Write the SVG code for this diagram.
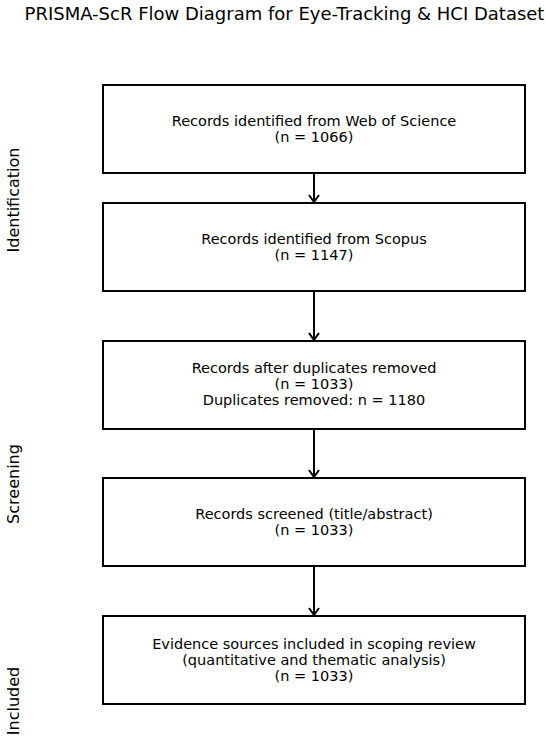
<svg xmlns="http://www.w3.org/2000/svg" width="550" height="740" viewBox="0 0 550 740">
<style>
text{font-family:"DejaVu Sans",sans-serif;fill:#000}
.t{font-size:14.5px;text-anchor:middle}
.box{fill:#fff;stroke:#000;stroke-width:2}
.side{font-size:16px;text-anchor:middle}
.c{stroke:#000;stroke-width:2;fill:none}
</style>
<defs>
<marker id="a" markerUnits="userSpaceOnUse" markerWidth="14" markerHeight="14" refX="7" refY="13" orient="0" viewBox="0 0 14 14">
<path d="M2,6 L7,13 L12,6" fill="none" stroke="#000" stroke-width="2"/>
</marker>
</defs>
<rect width="550" height="740" fill="#fff"/>
<text x="284.5" y="20" style="font-size:18px;text-anchor:middle">PRISMA-ScR Flow Diagram for Eye-Tracking &amp; HCI Dataset</text>
<text class="side" transform="translate(19,200) rotate(-90)">Identification</text>
<text class="side" transform="translate(19,484) rotate(-90)">Screening</text>
<text class="side" transform="translate(19,701) rotate(-90)">Included</text>
<g id="connectors">
<path class="c" d="M314,173 V202" marker-end="url(#a)"/>
<path class="c" d="M314,291 V340" marker-end="url(#a)"/>
<path class="c" d="M314,429 V477" marker-end="url(#a)"/>
<path class="c" d="M314,566 V615" marker-end="url(#a)"/>
</g>
<g id="n1"><rect class="box" x="103" y="85" width="422" height="88"/>
<text class="t" x="314" y="126">Records identified from Web of Science</text>
<text class="t" x="314" y="142">(n = 1066)</text></g>
<g id="n2"><rect class="box" x="103" y="203" width="422" height="88"/>
<text class="t" x="314" y="244">Records identified from Scopus</text>
<text class="t" x="314" y="260">(n = 1147)</text></g>
<g id="n3"><rect class="box" x="103" y="341" width="422" height="88"/>
<text class="t" x="314" y="373">Records after duplicates removed</text>
<text class="t" x="314" y="389">(n = 1033)</text>
<text class="t" x="314" y="405">Duplicates removed: n = 1180</text></g>
<g id="n4"><rect class="box" x="103" y="478" width="422" height="88"/>
<text class="t" x="314" y="519">Records screened (title/abstract)</text>
<text class="t" x="314" y="535">(n = 1033)</text></g>
<g id="n5"><rect class="box" x="103" y="616" width="422" height="88"/>
<text class="t" x="314" y="649">Evidence sources included in scoping review</text>
<text class="t" x="314" y="665">(quantitative and thematic analysis)</text>
<text class="t" x="314" y="681">(n = 1033)</text></g>
</svg>
